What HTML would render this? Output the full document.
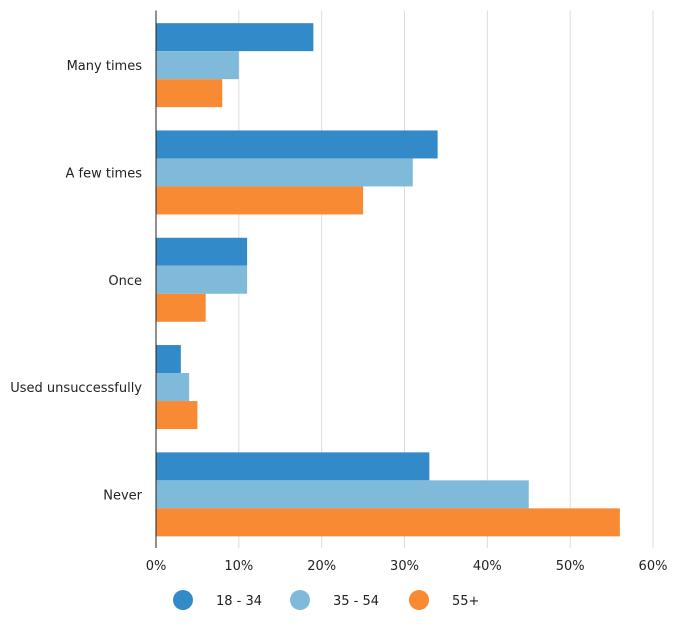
<!DOCTYPE html>
<html><head><meta charset="utf-8"><style>
body{margin:0;background:#fff;}
svg text{font-family:"DejaVu Sans","Liberation Sans",sans-serif;font-size:13px;fill:#222;}
</style></head><body>
<svg id="chart" width="675" height="631"></svg>
<script>
const categories=["Many times","A few times","Once","Used unsuccessfully","Never"];
const seriesNames=["18 - 34","35 - 54","55+"];
const s1834=[19,34,11,3,33];
const s3554=[10,31,11,4,45];
const s55=[8,25,6,5,56];
const ticks=[0,10,20,30,40,50,60];
const colors=["#338ac8","#7fbadb","#f78a33"];
const series=[s1834,s3554,s55];
const NS="http://www.w3.org/2000/svg";
const svgEl=document.getElementById("chart");
const x0=156,x1=653,plotTop=11.5,plotBottom=548,xmax=60;
const xs=v=>x0+v/xmax*(x1-x0);
const band=(plotBottom-plotTop)/categories.length,barH=28;
function mk(t,a){const e=document.createElementNS(NS,t);for(const k in a)e.setAttribute(k,a[k]);svgEl.appendChild(e);return e;}
ticks.forEach(t=>{
  if(t>0){const g=mk("line",{x1:xs(t),x2:xs(t),y1:plotTop-1,y2:plotBottom,stroke:"#dcdcdc","stroke-width":1});
  
  }
  const l=mk("text",{x:xs(t),y:570,"text-anchor":"middle"});l.textContent=t+"%";
  
  
});
categories.forEach((c,i)=>{
  const y0=plotTop+i*band+(band-3*barH)/2;
  series.forEach((s,j)=>{
    const r=mk("rect",{x:x0,y:y0+j*barH,width:xs(s[i])-x0,height:barH,fill:colors[j]});
    
    
  });
  const t=mk("text",{x:142,y:y0+1.5*barH+5,"text-anchor":"end"});t.textContent=c;
  
  
});
const ax=mk("line",{x1:x0,x2:x0,y1:plotTop-1,y2:plotBottom,stroke:"#222","stroke-width":1});


const lx=[183,300,419];
seriesNames.forEach((n,j)=>{
  const c=mk("circle",{cx:lx[j],cy:600,r:10,fill:colors[j]});
  
  
  const t=mk("text",{x:lx[j]+33,y:605});t.textContent=n;
  
  
});
</script>
</body></html>
